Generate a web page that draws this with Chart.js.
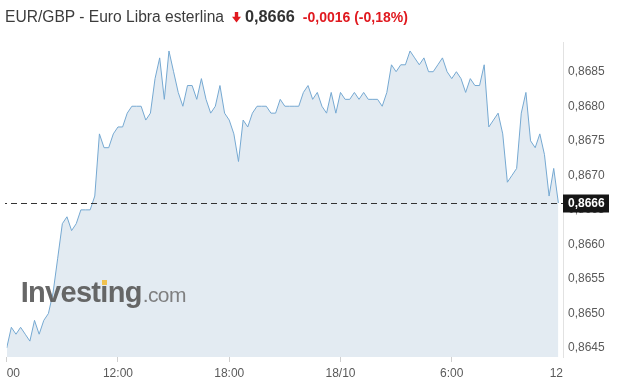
<!DOCTYPE html>
<html>
<head>
<meta charset="utf-8">
<script src="https://cdn.jsdelivr.net/npm/chart.js@4.4.1/dist/chart.umd.min.js"></script>
<style>
  html, body { margin: 0; padding: 0; background: #fff; }
  #wrap { position: relative; width: 619px; height: 391px; overflow: hidden; font-family: "Liberation Sans", Arial, sans-serif; }
  #c { position: absolute; left: 0; top: 0; }
  #title { position: absolute; left: 5px; top: 5.5px; line-height: 20px; white-space: nowrap; }
  #title .name { font-size: 15.6px; color: #3c3c3c; }
  #title .arrow { display: inline-block; margin-left: 8px; width: 9px; height: 11px; vertical-align: -1px; }
  #title .val { font-size: 16.3px; font-weight: bold; color: #333; margin-left: 4px; }
  #title .chg { font-size: 14px; font-weight: bold; color: #e0191f; margin-left: 8px; }
  #wm { position: absolute; left: 20.7px; top: 278px; line-height: 29px; white-space: nowrap; pointer-events: none; }
  #wm .inv { font-size: 29px; font-weight: bold; color: rgba(90,90,90,0.92); letter-spacing: -0.7px; }
  #wm .com { font-size: 21px; color: rgba(115,115,115,0.9); letter-spacing: -0.6px; margin-left: 1px; }
  #dot { position: absolute; left: 101.5px; top: 280px; width: 5px; height: 5px; background: #f0c24f; }
</style>
</head>
<body>
<div id="wrap">
  <canvas id="c" width="619" height="391"></canvas>
  <div id="title"><span class="name">EUR/GBP - Euro Libra esterlina</span><svg class="arrow" viewBox="0 0 9 11"><rect x="2.8" y="0" width="3.4" height="5" fill="#e0191f"/><polygon points="0,4.8 9,4.8 4.5,10.5" fill="#e0191f"/></svg><span class="val">0,8666</span><span class="chg">-0,0016 (-0,18%)</span></div>
  <div id="wm"><span class="inv">Investing</span><span class="com">.com</span></div>
  <div id="dot"></div>
</div>
<script>
// EUR/GBP quotes, one every 15 minutes starting 17/10 06:00
const prices = [
  0.8645, 0.8648, 0.8647, 0.8648, 0.8647, 0.8646, 0.8649, 0.8647, 0.8649, 0.8650,
  0.8653, 0.8658, 0.8663, 0.8664, 0.8662, 0.8663, 0.8665, 0.8665, 0.8665, 0.8667,
  0.8676, 0.8674, 0.8674, 0.8676, 0.8677, 0.8677, 0.8679, 0.8680, 0.8680, 0.8680,
  0.8678, 0.8679, 0.8684, 0.8687, 0.8681, 0.8688, 0.8685, 0.8682, 0.8680, 0.8683,
  0.8683, 0.8681, 0.8684, 0.8681, 0.8679, 0.8680, 0.8683, 0.8679, 0.8678, 0.8676,
  0.8672, 0.8678, 0.8677, 0.8679, 0.8680, 0.8680, 0.8680, 0.8679, 0.8679, 0.8681,
  0.8680, 0.8680, 0.8680, 0.8680, 0.8682, 0.8683, 0.8681, 0.8682, 0.8680, 0.8679,
  0.8682, 0.8679, 0.8682, 0.8681, 0.8681, 0.8682, 0.8681, 0.8682, 0.8681, 0.8681,
  0.8681, 0.8680, 0.8682, 0.8686, 0.8685, 0.8686, 0.8686, 0.8688, 0.8687, 0.8686,
  0.8687, 0.8685, 0.8685, 0.8686, 0.8687, 0.8685, 0.8684, 0.8685, 0.8684, 0.8682,
  0.8684, 0.8683, 0.8683, 0.8686, 0.8677, 0.8678, 0.8679, 0.8676, 0.8669, 0.8670,
  0.8671, 0.8679, 0.8682, 0.8675, 0.8674, 0.8676, 0.8673, 0.8667, 0.8671, 0.8666
];
const stepHours = 0.25;            // sampling interval
const xTickHours = [0, 6, 12, 18, 24, 30];
const xTickLabels = ['00', '12:00', '18:00', '18/10', '6:00', '12'];
const yTickValues = [0.8645, 0.8650, 0.8655, 0.8660, 0.8665, 0.8670, 0.8675, 0.8680, 0.8685];
const lastPrice = 0.8666;
const yMin = 0.86437, yMax = 0.86893;

const points = prices.map((v, i) => ({ x: i * stepHours, y: v }));
const fmt = v => v.toFixed(4).replace('.', ',');

const lastLine = {
  id: 'lastLine',
  afterDatasetsDraw(chart) {
    const { ctx, chartArea, scales } = chart;
    const y = Math.round(scales.y.getPixelForValue(lastPrice)) + 0.5;
    ctx.save();
    ctx.strokeStyle = '#333';
    ctx.lineWidth = 1;
    ctx.setLineDash([6, 4]);
    ctx.lineDashOffset = 4;
    ctx.beginPath();
    ctx.moveTo(5, y);
    ctx.lineTo(chartArea.right, y);
    ctx.stroke();
    ctx.setLineDash([]);
    ctx.fillStyle = '#161616';
    ctx.fillRect(chartArea.right, y - 9, 46, 18);
    ctx.fillStyle = '#fff';
    ctx.font = 'bold 12px "Liberation Sans", Arial, sans-serif';
    ctx.textBaseline = 'middle';
    ctx.textAlign = 'left';
    ctx.fillText(fmt(lastPrice), chartArea.right + 5, y + 0.5);
    ctx.restore();
  }
};

new Chart(document.getElementById('c'), {
  type: 'line',
  data: {
    datasets: [{
      data: points,
      borderColor: '#76a9d2',
      borderWidth: 1,
      backgroundColor: '#e3ebf2',
      fill: 'start',
      pointRadius: 0,
      tension: 0
    }]
  },
  options: {
    responsive: false,
    animation: false,
    devicePixelRatio: 1,
    layout: { padding: { left: 6.7, top: 42, right: 0, bottom: 0 } },
    plugins: { legend: { display: false }, tooltip: { enabled: false } },
    scales: {
      x: {
        type: 'linear',
        min: xTickHours[0],
        max: xTickHours[xTickHours.length - 1],
        afterFit: s => { s.height = 34; },
        afterBuildTicks: s => { s.ticks = xTickHours.map(v => ({ value: v })); },
        ticks: {
          autoSkip: false,
          maxRotation: 0,
          align: 'inner',
          padding: 4,
          color: '#5a5a5a',
          font: { size: 12, family: '"Liberation Sans", Arial, sans-serif' },
          callback: (v, i) => xTickLabels[i]
        },
        grid: {
          color: 'rgba(255,255,255,0.45)',
          tickColor: c => (c.index === xTickHours.length - 1 ? 'rgba(0,0,0,0)' : '#cfcfcf'),
          tickLength: 5
        },
        border: { display: false }
      },
      y: {
        position: 'right',
        min: yMin,
        max: yMax,
        afterFit: s => { s.width = 56; },
        afterBuildTicks: s => { s.ticks = yTickValues.map(v => ({ value: v })); },
        ticks: {
          padding: 5,
          color: '#5a5a5a',
          font: { size: 12, family: '"Liberation Sans", Arial, sans-serif' },
          callback: v => fmt(v)
        },
        grid: { drawOnChartArea: false, drawTicks: false },
        border: { display: true, color: '#e2e2e2' }
      }
    }
  },
  plugins: [lastLine]
});
</script>
</body>
</html>
